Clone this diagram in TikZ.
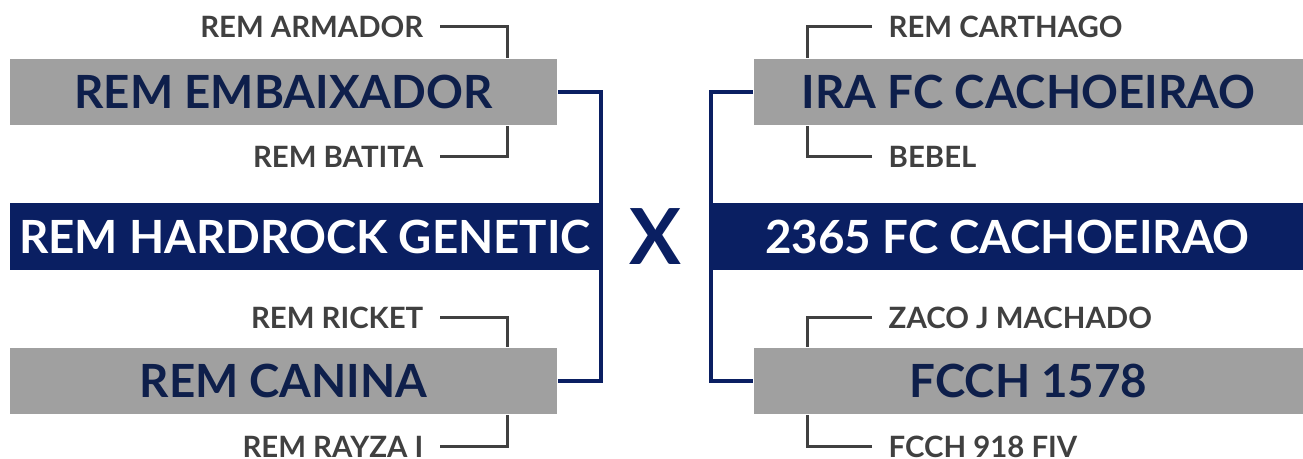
\documentclass[tikz,border=0pt]{standalone}
\usepackage{fontspec}
\setmainfont{Lato}
\usetikzlibrary{positioning,calc}
\definecolor{navyblue}{HTML}{0A1F62}
\definecolor{boxgray}{HTML}{A0A0A0}
\definecolor{namenavy}{HTML}{0E1F4B}
\definecolor{seedgray}{HTML}{404040}

\begin{document}
\begin{tikzpicture}[
  x=0.01cm, y=-0.01cm,
  sire/.style={rectangle, fill=boxgray, minimum width=5.47cm, minimum height=0.66cm, inner sep=0pt, text=namenavy, font=\fontsize{13}{15}\selectfont\bfseries},
  champ/.style={rectangle, fill=navyblue, minimum height=0.67cm, inner sep=0pt, text=white, font=\fontsize{13}{15}\selectfont\bfseries},
  seed/.style={inner sep=0pt, text=seedgray, font=\fontsize{8.35}{10}\selectfont\bfseries},
  tie/.style={draw=seedgray, line width=0.85pt},
  link/.style={draw=navyblue, line width=1.1pt}
]
  \useasboundingbox (0,0) rectangle (1303,459);
  \coordinate (ltie) at (507,0);
  \coordinate (rtie) at (807,0);

  % left side
  \node[sire] (embaix) at (283.5,92) {REM EMBAIXADOR};
  \node[champ, minimum width=5.90cm] (hardrock) at (305,236.5) {REM HARDROCK GENETIC};
  \node[sire] (canina) at (283.5,381) {REM CANINA};
  \node[seed, anchor=east] (armador) at (424,27) {REM ARMADOR};
  \node[seed, anchor=east] (batita) at (424,157) {REM BATITA};
  \node[seed, anchor=east] (ricket) at (424,318) {REM RICKET};
  \node[seed, anchor=east] (rayza) at (424,447) {REM RAYZA I};

  % right side
  \node[sire, minimum width=5.49cm] (ira) at (1028.5,92) {IRA FC CACHOEIRAO};
  \node[champ, minimum width=5.91cm] (cach) at (1007.5,236.5) {2365 FC CACHOEIRAO};
  \node[sire, minimum width=5.49cm] (fcch) at (1028.5,381) {FCCH 1578};
  \node[seed, anchor=west] (carthago) at (888,27) {REM CARTHAGO};
  \node[seed, anchor=west] (bebel) at (888,157) {BEBEL};
  \node[seed, anchor=west] (zaco) at (888,318) {ZACO J MACHADO};
  \node[seed, anchor=west] (fiv) at (888,447) {FCCH 918 FIV};

  \node[text=navyblue, font=\fontsize{22}{24}\selectfont\bfseries] (versus) at (655,237) {X};

  \draw[tie] ($(armador.east)+(16,0)$) -| (embaix.north -| ltie);
  \draw[tie] ($(batita.east)+(16,0)$) -| (embaix.south -| ltie);
  \draw[tie] ($(ricket.east)+(16,0)$) -| (canina.north -| ltie);
  \draw[tie] ($(rayza.east)+(16,0)$) -| (canina.south -| ltie);
  \draw[tie] ($(carthago.west)+(-16,0)$) -| (ira.north -| rtie);
  \draw[tie] ($(bebel.west)+(-16,0)$) -| (ira.south -| rtie);
  \draw[tie] ($(zaco.west)+(-16,0)$) -| (fcch.north -| rtie);
  \draw[tie] ($(fiv.west)+(-16,0)$) -| (fcch.south -| rtie);

  \draw[link] (embaix.east) -| (hardrock.east) |- (canina.east);
  \draw[link] (ira.west) -| (cach.west) |- (fcch.west);
\end{tikzpicture}
\end{document}
